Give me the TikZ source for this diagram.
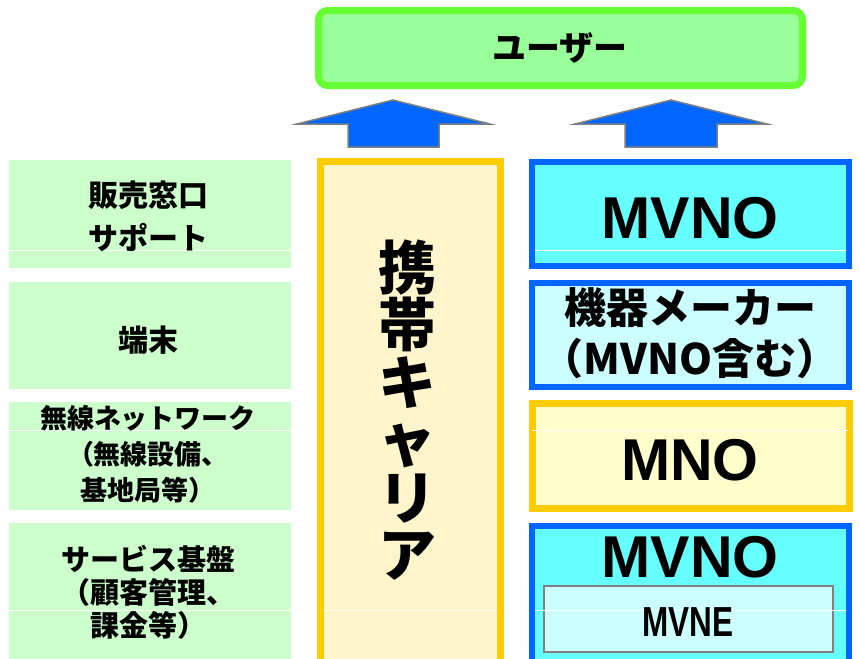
\documentclass[tikz,border=0pt]{standalone}
\usepackage{fontspec}
\setmainfont{Liberation Sans}
\newfontfamily\jp{Noto Sans CJK JP}
\newfontfamily\jpheavy{Noto Sans CJK JP Black}
\definecolor{leaf}{HTML}{CCFFCC}
\definecolor{userfill}{HTML}{99FF99}
\definecolor{userline}{HTML}{66FF33}
\definecolor{carrierfill}{HTML}{FFF5CC}
\definecolor{mnofill}{HTML}{FFFFCC}
\definecolor{gold}{HTML}{FFCC00}
\definecolor{blueline}{HTML}{0066FF}
\definecolor{cyanfill}{HTML}{66FFFF}
\definecolor{paleblue}{HTML}{CCFFFF}
\begin{document}
\begin{tikzpicture}[x=1pt,y=-1pt,
	leafbox/.style={fill=leaf,minimum width=282,inner sep=0},
	bluebox/.style={draw=blueline,line width=6,minimum width=317,inner sep=0},
	goldbox/.style={draw=gold,line width=7,inner sep=0},
	jplabel/.style={font=\jpheavy\fontsize{#1}{#1}\selectfont,align=center,inner sep=0},
	biglabel/.style={font=\bfseries\fontsize{59}{59}\selectfont,inner sep=0},
	upshape/.style={fill=blueline,draw=gray,line width=1.5},
	seam/.style={white,line width=0.8}]
	\useasboundingbox (0,0) rectangle (860,659);

	% left column
	\node[leafbox,minimum height=108] (salesbox) at (150,214) {};
	\node[leafbox,minimum height=107] (devicebox) at (150,335.5) {};
	\node[leafbox,minimum height=108] (radiobox) at (150,456) {};
	\node[leafbox,minimum height=137] (servicebox) at (150,591.5) {};

	% user
	\node[draw=userline,fill=userfill,line width=7,rounded corners=9,
		minimum width=484,minimum height=75,inner sep=0] (user) at (560.5,48) {};

	% carrier
	\node[goldbox,fill=carrierfill,minimum width=180,minimum height=508.5] (carrier) at (410.5,415.75) {};

	% right column
	\node[bluebox,fill=cyanfill,minimum height=104] (mvnotop) at (690.5,214) {};
	\node[bluebox,fill=paleblue,minimum height=104] (maker) at (690.5,335) {};
	\node[goldbox,fill=mnofill,minimum width=317,minimum height=105] (mno) at (690.5,456) {};
	\node[bluebox,fill=cyanfill,minimum height=144] (mvnobottom) at (690.5,598) {};
	\node[draw=gray,line width=2,fill=paleblue,minimum width=289,minimum height=66,inner sep=0] (mvne) at (688.5,619) {};

	% arrows
	\draw[upshape] (297,124) -- (393,100) -- (490,124) -- (439,124) -- (439,147) -- (348,147) -- (348,124) -- cycle;
	\draw[upshape] (575,124) -- (671,100) -- (767,124) -- (717,124) -- (717,147) -- (625,147) -- (625,124) -- cycle;

	% seams
	\draw[seam] (9,250) -- (291,250);
	\draw[seam] (535,250) -- (846,250);
	\draw[seam] (9,430) -- (291,430);
	\draw[seam] (532,430) -- (848,430);
	\draw[seam] (9,610) -- (291,610);
	\draw[seam] (324,610) -- (497,610);
	\draw[seam] (535,610) -- (846,610);

	% texts
	\node[jplabel=34] (usertext) at (560,48) {ユーザー};
	\node[jplabel=30,font=\jpheavy\fontsize{30}{43}\selectfont] (salestext) at (148,216) {販売窓口\\サポート};
	\node[jplabel=30] (devicetext) at (148,340) {端末};
	\node[jplabel=27,font=\jpheavy\fontsize{27}{36}\selectfont] (radiotext) at (148,454) {無線ネットワーク\\（無線設備、\\基地局等）};
	\node[jplabel=29,font=\jpheavy\fontsize{29}{33}\selectfont] (servicetext) at (148,592) {サービス基盤\\（顧客管理、\\課金等）};
	\node[jplabel=58,font=\jpheavy\fontsize{58}{57.5}\selectfont] (carriertext) at (407,410) {携\\帯\\キ\\ャ\\リ\\ア};
	\node[biglabel] (mvnotoptext) at (690,218) {MVNO};
	\node[jplabel=42,font=\jp\bfseries\fontsize{42}{51}\selectfont] (makertext) at (690,333) {機器メーカー\\（MVNO含む）};
	\node[biglabel] (mnotext) at (690,460) {MNO};
	\node[biglabel] (mvnobottomtext) at (690,557) {MVNO};
	\node[font=\bfseries\fontsize{42}{42}\selectfont,inner sep=0] (mvnetext) at (688,622) {\scalebox{0.75}[1]{MVNE}};
\end{tikzpicture}
\end{document}
